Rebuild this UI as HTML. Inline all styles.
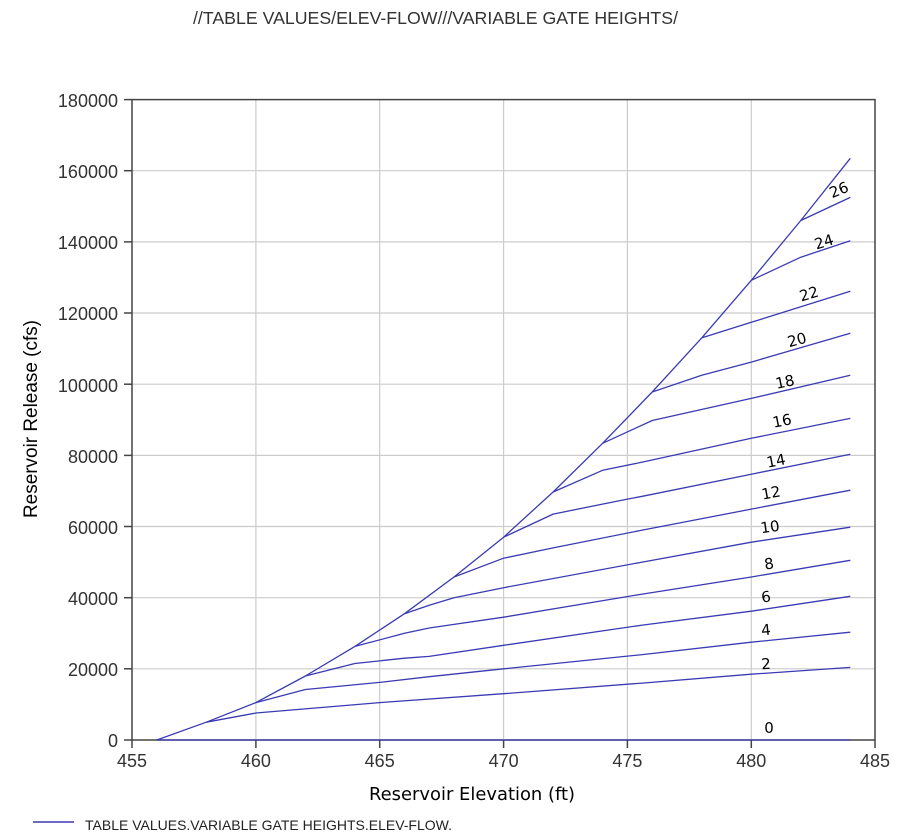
<!DOCTYPE html>
<html><head><meta charset="utf-8"><style>
html,body{margin:0;padding:0;background:#fff;}
svg{display:block;}
</style></head><body>
<svg width="900" height="840" viewBox="0 0 900 840" xmlns="http://www.w3.org/2000/svg">
<rect width="900" height="840" fill="#fff"/>
<text x="193" y="24" font-family="Liberation Sans, Arial, sans-serif" font-size="17.5" fill="#333" textLength="485" lengthAdjust="spacingAndGlyphs">//TABLE VALUES/ELEV-FLOW///VARIABLE GATE HEIGHTS/</text>
<g stroke="#cccccc" stroke-width="1.2" fill="none">
<line x1="255.9" y1="99.6" x2="255.9" y2="740"/>
<line x1="379.7" y1="99.6" x2="379.7" y2="740"/>
<line x1="503.6" y1="99.6" x2="503.6" y2="740"/>
<line x1="627.4" y1="99.6" x2="627.4" y2="740"/>
<line x1="751.3" y1="99.6" x2="751.3" y2="740"/>
<line x1="132" y1="668.8" x2="875" y2="668.8"/>
<line x1="132" y1="597.7" x2="875" y2="597.7"/>
<line x1="132" y1="526.5" x2="875" y2="526.5"/>
<line x1="132" y1="455.4" x2="875" y2="455.4"/>
<line x1="132" y1="384.2" x2="875" y2="384.2"/>
<line x1="132" y1="313.0" x2="875" y2="313.0"/>
<line x1="132" y1="241.9" x2="875" y2="241.9"/>
<line x1="132" y1="170.7" x2="875" y2="170.7"/>
</g>
<rect x="132" y="99.6" width="743" height="640.4" fill="none" stroke="#444" stroke-width="1.5"/>
<g stroke="#444" stroke-width="1.5">
<line x1="124" y1="740" x2="132" y2="740"/>
<line x1="124" y1="668.8" x2="132" y2="668.8"/>
<line x1="124" y1="597.7" x2="132" y2="597.7"/>
<line x1="124" y1="526.5" x2="132" y2="526.5"/>
<line x1="124" y1="455.4" x2="132" y2="455.4"/>
<line x1="124" y1="384.2" x2="132" y2="384.2"/>
<line x1="124" y1="313.0" x2="132" y2="313.0"/>
<line x1="124" y1="241.9" x2="132" y2="241.9"/>
<line x1="124" y1="170.7" x2="132" y2="170.7"/>
<line x1="124" y1="99.6" x2="132" y2="99.6"/>
<line x1="132" y1="740" x2="132" y2="748"/>
<line x1="255.9" y1="740" x2="255.9" y2="748"/>
<line x1="379.7" y1="740" x2="379.7" y2="748"/>
<line x1="503.6" y1="740" x2="503.6" y2="748"/>
<line x1="627.4" y1="740" x2="627.4" y2="748"/>
<line x1="751.3" y1="740" x2="751.3" y2="748"/>
<line x1="875" y1="740" x2="875" y2="748"/>
</g>
<g font-family="Liberation Sans, Arial, sans-serif" font-size="18" fill="#333" text-anchor="end">
<text x="118" y="747">0</text>
<text x="118" y="676">20000</text>
<text x="118" y="605">40000</text>
<text x="118" y="534">60000</text>
<text x="118" y="463">80000</text>
<text x="118" y="392">100000</text>
<text x="118" y="320">120000</text>
<text x="118" y="249">140000</text>
<text x="118" y="178">160000</text>
<text x="118" y="107">180000</text>
</g>
<g font-family="Liberation Sans, Arial, sans-serif" font-size="18" fill="#333" text-anchor="middle">
<text x="132" y="767">455</text>
<text x="255.9" y="767">460</text>
<text x="379.7" y="767">465</text>
<text x="503.6" y="767">470</text>
<text x="627.4" y="767">475</text>
<text x="751.3" y="767">480</text>
<text x="875" y="767">485</text>
</g>
<text x="369" y="800" font-family="DejaVu Sans, Verdana, sans-serif" font-size="17.5" fill="#000" textLength="206" lengthAdjust="spacingAndGlyphs">Reservoir Elevation (ft)</text>
<text transform="translate(37,518) rotate(-90)" x="0" y="0" font-family="Liberation Sans, Arial, sans-serif" font-size="19" fill="#000" textLength="198" lengthAdjust="spacingAndGlyphs">Reservoir Release (cfs)</text>
<g stroke="#3a3ab4" stroke-width="1.3" fill="none" stroke-linejoin="round">
<polyline points="156.8,740 206.3,722.2 255.9,702.6 305.4,676 354.9,646.4 404.5,613.7 454,577 503.6,537.2 553.1,492 602.6,443.3 652.2,392 701.7,337.9 751.3,280.3 800.8,220.5 850.3,158.3"/>
<polyline points="156.8,740 850.3,740"/>
<polyline points="206.3,722.2 255.9,713 379.7,702.6 503.6,693.7 642.3,683.1 751.3,674.2 850.3,667.4"/>
<polyline points="255.9,702.6 305.4,689.5 379.7,682.4 429.2,676.7 503.6,668.8 642.3,654.6 751.3,642.2 850.3,632.2"/>
<polyline points="305.4,676 354.9,663.5 404.5,658.2 429.2,656.4 503.6,645.3 642.3,625.1 751.3,611.2 850.3,596.3"/>
<polyline points="354.9,646.4 404.5,633.3 429.2,628 454,624.4 503.6,617.2 642.3,594.1 751.3,577 850.3,560.3"/>
<polyline points="404.5,613.7 429.2,605.2 454,597.7 503.6,587.7 642.3,562.1 751.3,542.2 850.3,527.2"/>
<polyline points="454,577 503.6,558.2 553.1,547.9 642.3,530.1 751.3,509.1 850.3,490.2"/>
<polyline points="503.6,537.2 553.1,514.1 627.4,499.1 642.3,496.3 751.3,474.2 850.3,454.3"/>
<polyline points="553.1,492 602.6,470.3 642.3,462.1 751.3,438.3 850.3,418.4"/>
<polyline points="602.6,443.3 652.2,420.5 751.3,398.4 850.3,375.3"/>
<polyline points="652.2,392 701.7,375.3 751.3,362.1 850.3,333.3"/>
<polyline points="701.7,337.9 751.3,322.3 850.3,291.3"/>
<polyline points="751.3,280.3 800.8,257.2 850.3,240.8"/>
<polyline points="800.8,220.5 850.3,197.4"/>
</g>
<g font-family="DejaVu Sans, Verdana, sans-serif" font-size="15" fill="#000" text-anchor="middle" dominant-baseline="central">
<text transform="translate(769,728)">0</text>
<text transform="translate(766,664) rotate(-4)">2</text>
<text transform="translate(766,630) rotate(-6)">4</text>
<text transform="translate(766,597) rotate(-8)">6</text>
<text transform="translate(769,564) rotate(-9)">8</text>
<text transform="translate(770,527) rotate(-8)">10</text>
<text transform="translate(771,493) rotate(-10)">12</text>
<text transform="translate(776,461) rotate(-11)">14</text>
<text transform="translate(782,421) rotate(-11)">16</text>
<text transform="translate(785,382) rotate(-12)">18</text>
<text transform="translate(797,340) rotate(-15)">20</text>
<text transform="translate(809,294) rotate(-16)">22</text>
<text transform="translate(824,242) rotate(-17)">24</text>
<text transform="translate(839,190) rotate(-22)">26</text>
</g>
<line x1="33" y1="822" x2="74" y2="822" stroke="#3a3ab4" stroke-width="1.5"/>
<text x="85" y="830" font-family="Liberation Sans, Arial, sans-serif" font-size="14" fill="#222" textLength="367" lengthAdjust="spacingAndGlyphs">TABLE VALUES.VARIABLE GATE HEIGHTS.ELEV-FLOW.</text>
</svg>
</body></html>
